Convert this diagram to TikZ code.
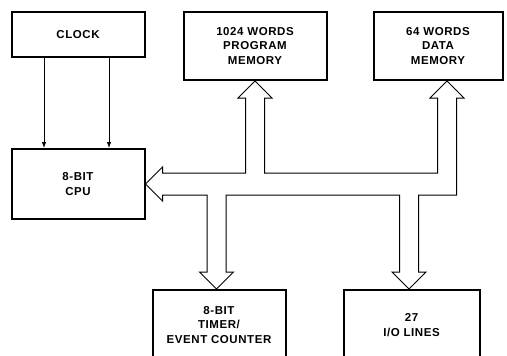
\documentclass[tikz,border=0pt]{standalone}
\usepackage{fontspec}
\setmainfont[LetterSpace=5]{Liberation Sans}
\usepackage{tikz}
\usetikzlibrary{positioning, calc, arrows.meta}

\begin{document}
\begin{tikzpicture}[x=1pt, y=-1pt, >={Latex[length=6pt,width=4.5pt]},
    every node/.style={font=\fontsize{11.5}{14.5}\selectfont\bfseries},
    block/.style={draw, rectangle, line width=2pt, align=center, minimum width=133pt, minimum height=68pt, inner sep=0pt},
    bus/.style={draw, line width=1pt, line join=miter},
    clk/.style={->, line width=0.8pt}]
    \useasboundingbox (0,0) rectangle (507,356);
    \def\headw{17}
    \def\headl{17}

    \node [block, minimum height=45pt] (clock) at (78,34.5) {CLOCK};
    \node [block, minimum height=70pt, below=90pt of clock] (cpu) {8-BIT\\CPU};
    \node [block, minimum width=143pt, right=37pt of clock.north east, anchor=north west] (prog) {1024 WORDS\\PROGRAM\\MEMORY};
    \node [block, minimum width=129pt, right=45pt of prog] (data) {64 WORDS\\DATA\\MEMORY};
    \node [block, minimum height=70pt, below right=69pt and 6pt of cpu.south east] (timer) {8-BIT\\TIMER/\\EVENT COUNTER};
    \node [block, minimum width=136pt, minimum height=70pt, right=56pt of timer] (io) {27\\I/O LINES};

    % clock lines
    \foreach \dx in {-34,31}
        \draw [clk] ($(clock.south)+(\dx,0)$) -- ($(cpu.north)+(\dx,0)$);

    % bus outline
    \coordinate (ptip) at (prog.south);
    \coordinate (dtip) at ([xshift=9pt]data.south);
    \coordinate (ttip) at ([xshift=-2.5pt]timer.north);
    \coordinate (itip) at ([xshift=-2.5pt]io.north);
    \coordinate (bt) at ($(cpu.east)+(0,-11)$);
    \coordinate (bb) at ($(cpu.east)+(0,11)$);
    \foreach \t in {p,d,t,i} {
        \coordinate (\t-l) at ($(\t tip)+(-9.5,0)$);
        \coordinate (\t-r) at ($(\t tip)+(9.5,0)$);
    }
    \draw [bus] (cpu.east) -- ($(cpu.east)+(\headl,-\headw)$) -- ($(cpu.east)+(\headl,-11)$)
        -- (p-l |- bt) -- ($(p-l)+(0,\headl)$) -- ($(ptip)+(-\headw,\headl)$) -- (ptip)
        -- ($(ptip)+(\headw,\headl)$) -- ($(p-r)+(0,\headl)$) -- (p-r |- bt)
        -- (d-l |- bt) -- ($(d-l)+(0,\headl)$) -- ($(dtip)+(-\headw,\headl)$) -- (dtip)
        -- ($(dtip)+(\headw,\headl)$) -- ($(d-r)+(0,\headl)$) -- (d-r |- bb)
        -- (i-r |- bb) -- ($(i-r)+(0,-\headl)$) -- ($(itip)+(\headw,-\headl)$) -- (itip)
        -- ($(itip)+(-\headw,-\headl)$) -- ($(i-l)+(0,-\headl)$) -- (i-l |- bb)
        -- (t-r |- bb) -- ($(t-r)+(0,-\headl)$) -- ($(ttip)+(\headw,-\headl)$) -- (ttip)
        -- ($(ttip)+(-\headw,-\headl)$) -- ($(t-l)+(0,-\headl)$) -- (t-l |- bb)
        -- ($(cpu.east)+(\headl,11)$) -- ($(cpu.east)+(\headl,\headw)$) -- cycle;
\end{tikzpicture}
\end{document}
